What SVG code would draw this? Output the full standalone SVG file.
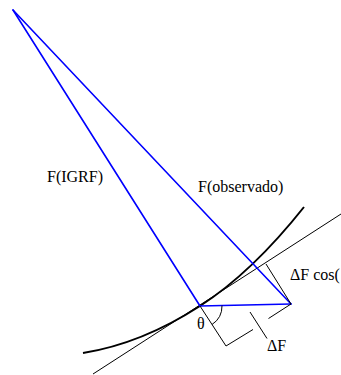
<svg xmlns="http://www.w3.org/2000/svg" width="341" height="375" viewBox="0 0 341 375">
<style>
.blue{stroke:#0000ff;stroke-width:1.6;fill:none;stroke-linecap:round}
.thin{stroke:#000;stroke-width:1;fill:none}
.thick{stroke:#000;stroke-width:2;fill:none}
.lbl{font-family:'Liberation Serif','DejaVu Serif',serif;font-size:16px;fill:#000}
</style>
<rect width="341" height="375" fill="#fff"/>
<g id="connectors">
<path class="thick" d="M83,353 Q141.5,343.7 200,306 Q252,272.5 304,207"/>
<line class="thin" x1="93" y1="374" x2="341" y2="214"/>
<line class="blue" x1="13" y1="10" x2="200" y2="306"/>
<line class="blue" x1="13" y1="10" x2="291" y2="304"/>
<line class="blue" x1="200" y1="306" x2="291" y2="304"/>
<line class="thin" x1="266" y1="264" x2="291" y2="304"/>
<line class="thin" x1="291" y1="304" x2="268.5" y2="318.5"/>
<polyline class="thin" points="200,306 226,346 253,329.5"/>
<line class="thin" x1="250" y1="312" x2="267" y2="338.5"/>
<path class="thin" d="M222,305.5 A22,22 0 0 1 212,324.5"/>
</g>
<g id="labels">
<text class="lbl" x="47" y="182">F(IGRF)</text>
<text class="lbl" x="198" y="192">F(observado)</text>
<text class="lbl" x="290" y="280">ΔF cos(</text>
<text class="lbl" x="267" y="351">ΔF</text>
<text class="lbl" x="197" y="329">θ</text>
</g>
</svg>
